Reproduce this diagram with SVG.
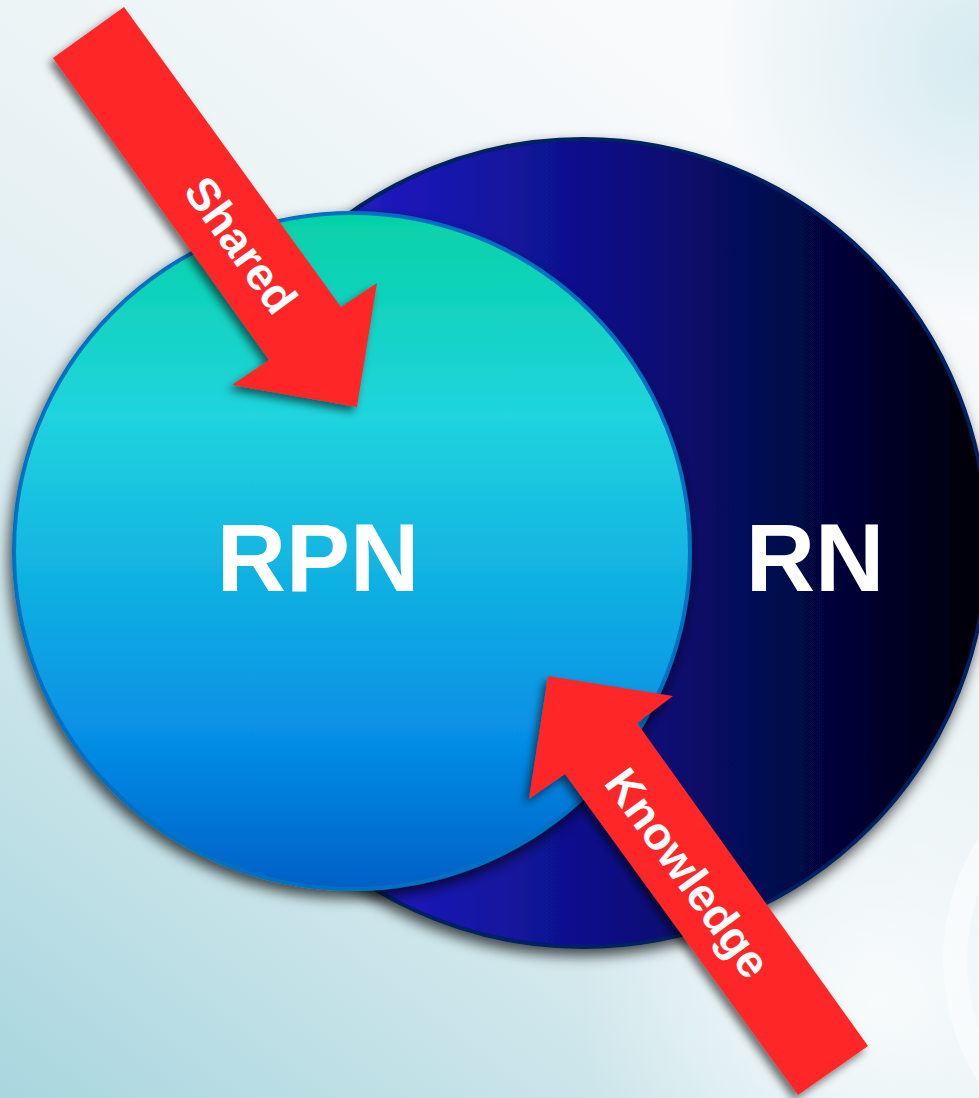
<svg xmlns="http://www.w3.org/2000/svg" width="979" height="1098" viewBox="0 0 979 1098">
  <defs>
    <linearGradient id="bg" x1="0" y1="1" x2="0.65" y2="0.05">
      <stop offset="0" stop-color="#a9d6df"/>
      <stop offset="0.5" stop-color="#e2eff2"/>
      <stop offset="1" stop-color="#f8fafb"/>
    </linearGradient>
    <radialGradient id="glowBR" cx="880" cy="1000" r="300" gradientUnits="userSpaceOnUse">
      <stop offset="0" stop-color="#ffffff" stop-opacity="0.75"/>
      <stop offset="1" stop-color="#ffffff" stop-opacity="0"/>
    </radialGradient>
    <radialGradient id="glowTR" cx="979" cy="60" r="260" gradientUnits="userSpaceOnUse">
      <stop offset="0" stop-color="#cde7ee" stop-opacity="0.8"/>
      <stop offset="1" stop-color="#cde7ee" stop-opacity="0"/>
    </radialGradient>
    <linearGradient id="rnGrad" x1="179" y1="0" x2="987" y2="0" gradientUnits="userSpaceOnUse">
      <stop offset="0" stop-color="#3a22e0"/>
      <stop offset="0.3" stop-color="#1a18b4"/>
      <stop offset="0.55" stop-color="#0a0e80"/>
      <stop offset="0.8" stop-color="#03063e"/>
      <stop offset="1" stop-color="#000004"/>
    </linearGradient>
    <linearGradient id="rpnGrad" x1="0" y1="213" x2="0" y2="889" gradientUnits="userSpaceOnUse">
      <stop offset="0" stop-color="#05d2a6"/>
      <stop offset="0.3" stop-color="#20d4de"/>
      <stop offset="0.55" stop-color="#10b0e2"/>
      <stop offset="0.78" stop-color="#068ee6"/>
      <stop offset="1" stop-color="#0060c6"/>
    </linearGradient>
    <filter id="shadow" x="-20%" y="-20%" width="140%" height="140%">
      <feDropShadow dx="-3" dy="7" stdDeviation="7" flood-color="#000000" flood-opacity="0.7"/>
    </filter>
    <filter id="ashadow" x="-20%" y="-20%" width="140%" height="140%">
      <feDropShadow dx="-4" dy="5" stdDeviation="4" flood-color="#000000" flood-opacity="0.55"/>
    </filter>
  </defs>
  <style>
    .lbl { font-family: "Liberation Sans", Arial, sans-serif; font-weight: bold; fill: #ffffff; }
    .big { font-size: 96px; text-anchor: middle; }
    .arrowlbl { font-size: 46px; text-anchor: middle; dominant-baseline: central; }
    .arrow { fill: #fe2727; filter: url(#ashadow); }
  </style>

  <g id="background">
    <rect x="0" y="0" width="979" height="1098" fill="url(#bg)"/>
    <rect x="0" y="0" width="979" height="1098" fill="url(#glowTR)"/>
    <rect x="0" y="0" width="979" height="1098" fill="url(#glowBR)"/>
    <circle cx="1170" cy="960" r="215" fill="none" stroke="#ffffff" stroke-opacity="0.45" stroke-width="24"/>
  </g>

  <g id="node-RN">
    <circle cx="583" cy="543" r="404" fill="url(#rnGrad)" stroke="#002060" stroke-width="4" filter="url(#shadow)"/>
    <text class="lbl big" x="815" y="591">RN</text>
  </g>

  <g id="node-RPN">
    <circle cx="352" cy="551" r="338" fill="url(#rpnGrad)" stroke="#0070c0" stroke-width="4" filter="url(#shadow)"/>
    <text class="lbl big" x="318" y="591">RPN</text>
  </g>

  <g id="connectors">
    <g id="arrow-shared">
      <polygon class="arrow" points="124,7 341,307 377,283 357,407 232,385 269,360 53,58"/>
      <text class="lbl arrowlbl" transform="translate(241,245) rotate(54.1)">Shared</text>
    </g>
    <g id="arrow-knowledge">
      <polygon class="arrow" points="548,676 673,696 637,723 868,1046 798,1095 565,774 529,799"/>
      <text class="lbl arrowlbl" transform="translate(688,873) rotate(54.1)">Knowledge</text>
    </g>
  </g>
</svg>
